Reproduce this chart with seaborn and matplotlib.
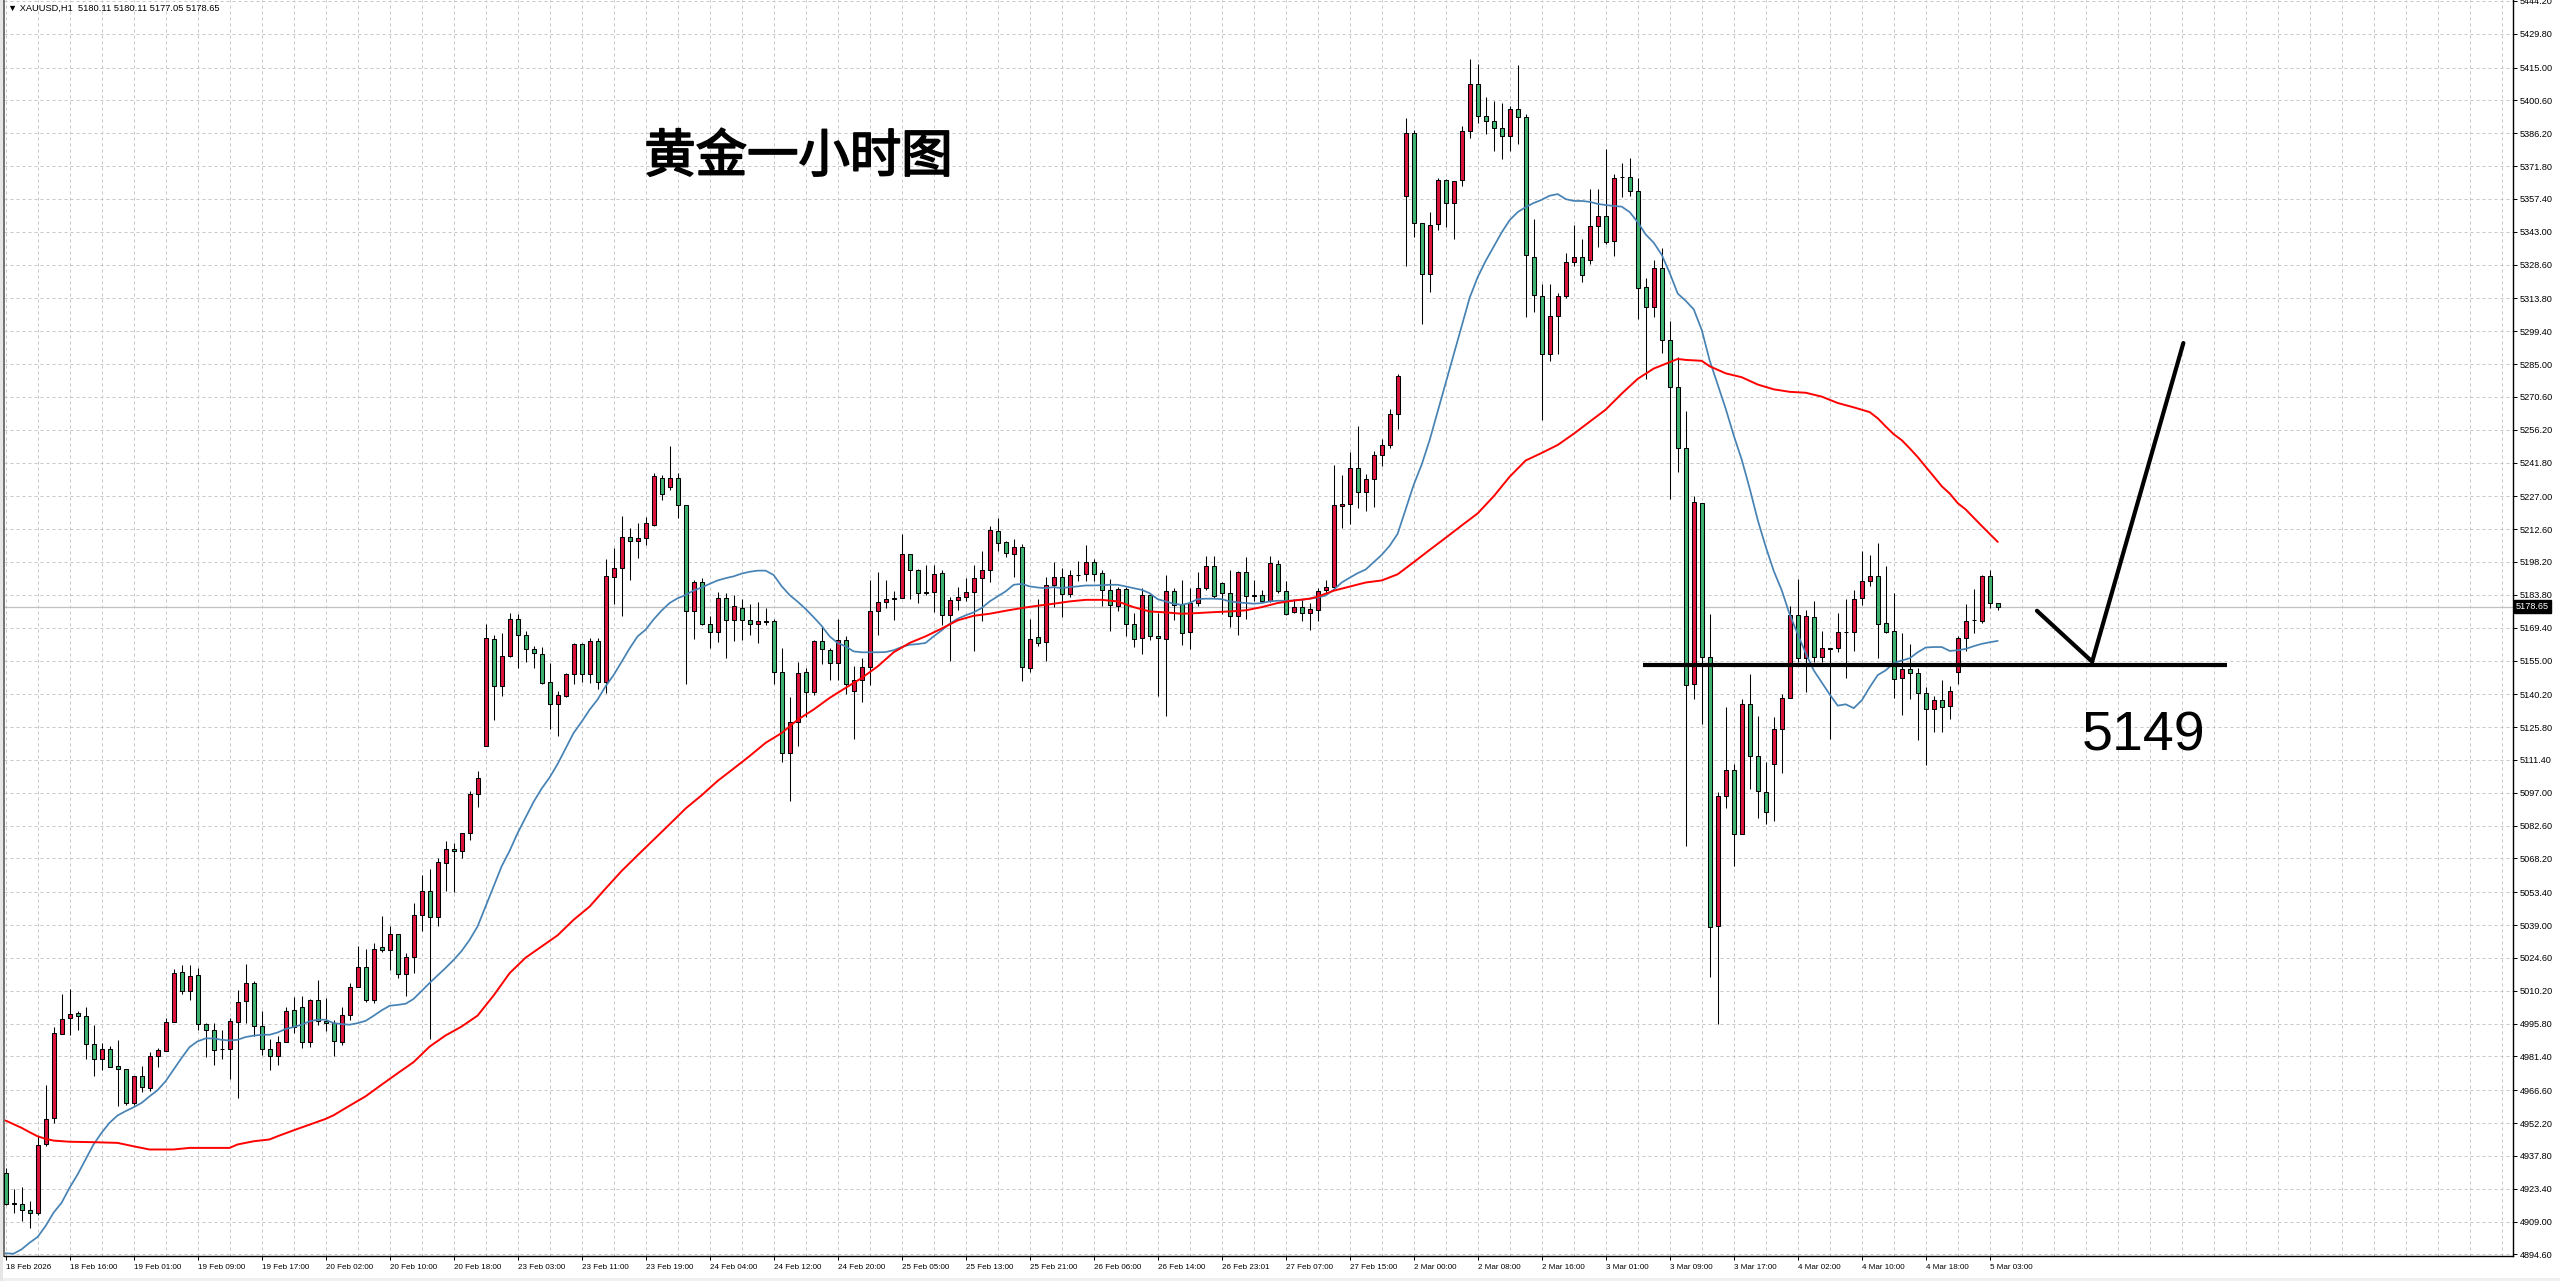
import numpy as np
import pandas as pd
import matplotlib
matplotlib.use("Agg")
import matplotlib.pyplot as plt
import matplotlib.patheffects as pe
import seaborn as sns
from matplotlib import font_manager as fm
from matplotlib.transforms import blended_transform_factory
from matplotlib.patches import Rectangle

# ---------------- data (XAUUSD H1) ----------------
bar_open = [
4930.4, 4916.9, 4916.8, 4914.2, 4912.9, 4943.1, 4954.4, 4991.2, 4998.2, 5000.4,
4999.1, 4986.8, 4980.3, 4984.6, 4977.2, 4975.9, 4961.0, 4972.8, 4967.6, 4981.6,
4983.8, 4996.5, 5018.3, 5010.0, 5017.0, 4995.7, 4993.0, 4984.6, 4984.6, 4996.6,
5005.7, 5013.7, 4994.7, 4984.6, 4981.4, 4987.7, 5001.7, 5003.0, 4987.7, 5006.1,
4997.0, 4996.0, 4987.7, 4999.5, 5011.8, 5020.7, 5006.0, 5029.2, 5027.9, 5034.9,
5017.4, 5025.2, 5043.5, 5054.0, 5042.6, 5066.1, 5072.5, 5071.5, 5079.3, 5096.3,
5117.4, 5164.4, 5143.9, 5157.0, 5173.0, 5166.2, 5159.9, 5158.0, 5145.5, 5136.1,
5139.6, 5149.2, 5162.3, 5149.2, 5163.4, 5145.5, 5191.5, 5195.4, 5209.3, 5207.3,
5208.9, 5214.5, 5235.2, 5230.9, 5234.8, 5223.1, 5176.5, 5189.2, 5171.0, 5167.5,
5182.3, 5172.8, 5178.2, 5172.8, 5170.8, 5172.0, 5172.2, 5150.0, 5114.5, 5128.1,
5150.0, 5141.4, 5163.5, 5159.7, 5153.9, 5164.0, 5141.5, 5146.5, 5152.2, 5176.5,
5180.6, 5182.4, 5182.4, 5201.8, 5194.6, 5184.9, 5185.0, 5193.4, 5174.8, 5181.4,
5182.8, 5185.0, 5191.1, 5194.6, 5211.8, 5206.9, 5201.6, 5204.7, 5151.7, 5165.4,
5163.1, 5188.0, 5191.6, 5184.1, 5192.4, 5192.9, 5198.1, 5193.3, 5186.0, 5178.9,
5186.3, 5171.0, 5164.8, 5183.7, 5165.9, 5164.4, 5185.4, 5179.7, 5167.5, 5180.2,
5186.7, 5196.5, 5188.9, 5184.5, 5174.6, 5193.9, 5183.6, 5183.7, 5181.3, 5197.4,
5185.6, 5176.1, 5178.4, 5175.8, 5177.0, 5185.7, 5187.2, 5222.6, 5223.5, 5239.2,
5228.8, 5234.4, 5244.9, 5249.7, 5263.1, 5358.8, 5386.4, 5346.8, 5324.5, 5346.3,
5365.6, 5355.7, 5365.6, 5387.3, 5407.9, 5393.6, 5391.4, 5388.6, 5384.8, 5396.6,
5393.4, 5332.0, 5314.9, 5289.5, 5306.1, 5314.9, 5329.9, 5332.0, 5330.6, 5345.7,
5349.8, 5339.1, 5366.8, 5367.2, 5360.9, 5318.8, 5310.2, 5327.2, 5295.5, 5275.0,
5248.3, 5144.8, 5224.0, 5156.4, 5038.5, 5095.5, 5107.2, 5079.1, 5135.9, 5113.1,
5097.2, 5109.7, 5125.0, 5138.6, 5175.1, 5156.0, 5174.1, 5156.4, 5160.1, 5160.7,
5167.5, 5167.7, 5182.6, 5190.0, 5192.1, 5171.3, 5167.9, 5147.5, 5151.4, 5149.7,
5140.7, 5133.7, 5137.8, 5135.0, 5150.0, 5164.9, 5172.6, 5172.3, 5191.9, 5180.11,
]
bar_high = [
4932.6, 4923.1, 4924.2, 4917.8, 4946.4, 4969.0, 4994.3, 5008.9, 5011.1, 5001.4,
5003.2, 4995.3, 4987.3, 4985.8, 4988.7, 4975.9, 4972.8, 4977.3, 4983.3, 4985.2,
4998.2, 5019.7, 5021.6, 5021.6, 5020.1, 4996.0, 4996.0, 4992.8, 4998.2, 5010.6,
5022.0, 5014.3, 5001.4, 4989.0, 4990.2, 5003.2, 5007.4, 5007.7, 5006.5, 5015.0,
5007.1, 4997.5, 5003.2, 5013.5, 5030.0, 5028.3, 5031.0, 5042.8, 5038.7, 5035.2,
5026.7, 5048.8, 5060.8, 5063.7, 5068.6, 5076.0, 5074.9, 5079.3, 5097.9, 5106.7,
5171.0, 5166.2, 5167.1, 5175.9, 5175.5, 5168.1, 5161.3, 5160.9, 5154.0, 5141.8,
5149.6, 5162.8, 5162.8, 5164.8, 5164.8, 5199.7, 5204.2, 5218.4, 5213.0, 5215.3,
5217.9, 5237.0, 5236.4, 5249.1, 5237.4, 5223.1, 5190.5, 5191.1, 5174.5, 5185.1,
5184.7, 5183.7, 5181.8, 5179.8, 5180.8, 5177.9, 5173.0, 5160.3, 5138.8, 5154.4,
5151.9, 5164.0, 5170.2, 5160.6, 5173.3, 5165.9, 5152.4, 5156.2, 5190.1, 5194.0,
5190.1, 5185.3, 5210.5, 5201.8, 5195.2, 5196.9, 5196.9, 5194.5, 5182.7, 5187.2,
5191.1, 5196.9, 5202.8, 5214.0, 5217.4, 5207.5, 5208.3, 5206.1, 5173.3, 5181.9,
5191.6, 5198.3, 5195.5, 5194.8, 5198.8, 5205.7, 5199.4, 5194.5, 5190.8, 5187.2,
5187.2, 5175.8, 5186.7, 5184.3, 5175.8, 5192.6, 5186.7, 5190.4, 5186.7, 5194.0,
5200.9, 5200.6, 5189.5, 5194.8, 5194.3, 5200.2, 5190.4, 5186.0, 5200.6, 5199.1,
5189.7, 5181.9, 5181.9, 5180.2, 5186.7, 5190.4, 5240.9, 5236.5, 5246.3, 5257.9,
5236.9, 5247.0, 5252.0, 5265.1, 5280.6, 5392.7, 5387.7, 5346.8, 5351.6, 5366.4,
5365.9, 5365.4, 5389.5, 5418.6, 5416.4, 5402.1, 5400.4, 5399.5, 5398.0, 5415.9,
5394.5, 5348.6, 5319.9, 5319.9, 5316.3, 5333.8, 5345.9, 5339.8, 5361.8, 5361.8,
5379.3, 5368.1, 5373.0, 5375.2, 5366.4, 5322.5, 5330.7, 5335.9, 5304.0, 5288.0,
5264.3, 5227.0, 5224.2, 5175.6, 5097.2, 5134.8, 5109.7, 5138.0, 5149.3, 5130.5,
5110.4, 5130.1, 5140.5, 5178.8, 5190.6, 5177.0, 5180.9, 5167.9, 5160.7, 5175.8,
5182.1, 5185.8, 5202.8, 5201.1, 5206.4, 5196.4, 5184.7, 5167.1, 5162.4, 5151.8,
5143.3, 5139.5, 5146.5, 5144.0, 5165.6, 5179.9, 5186.5, 5192.6, 5194.8, 5180.11,
]
bar_low = [
4916.2, 4912.9, 4909.2, 4906.3, 4911.7, 4942.3, 4952.3, 4991.2, 4990.9, 4993.1,
4980.3, 4972.7, 4975.3, 4976.8, 4959.5, 4960.0, 4960.3, 4965.7, 4966.1, 4976.8,
4983.8, 4996.5, 5008.6, 5006.0, 4993.1, 4981.1, 4977.5, 4980.3, 4971.5, 4963.1,
4996.0, 4990.2, 4982.2, 4975.3, 4977.8, 4987.7, 4991.6, 4984.9, 4985.5, 4995.1,
4992.4, 4981.4, 4986.3, 4997.5, 5011.8, 5005.2, 5004.8, 5027.3, 5019.4, 5015.6,
5008.0, 5017.9, 5036.4, 4989.0, 5038.4, 5054.0, 5053.6, 5068.2, 5076.4, 5090.8,
5117.4, 5129.1, 5139.4, 5156.4, 5151.5, 5154.5, 5151.5, 5144.7, 5124.8, 5121.9,
5138.8, 5144.7, 5145.7, 5145.1, 5142.7, 5140.8, 5179.8, 5174.5, 5190.1, 5200.1,
5205.6, 5214.0, 5225.5, 5229.6, 5217.3, 5144.7, 5164.6, 5170.4, 5160.3, 5163.2,
5156.0, 5163.6, 5164.2, 5166.1, 5162.6, 5170.4, 5144.7, 5110.6, 5093.6, 5117.4,
5130.1, 5140.0, 5153.5, 5146.3, 5146.3, 5140.3, 5120.6, 5136.8, 5144.1, 5166.3,
5178.0, 5172.6, 5182.4, 5182.1, 5180.0, 5183.8, 5176.1, 5170.7, 5154.9, 5177.0,
5180.9, 5159.0, 5172.1, 5189.4, 5203.2, 5200.3, 5191.6, 5145.9, 5149.8, 5161.2,
5154.9, 5178.4, 5173.9, 5182.8, 5189.7, 5189.7, 5190.0, 5179.0, 5167.8, 5176.8,
5165.6, 5160.8, 5157.9, 5164.1, 5139.3, 5130.6, 5172.6, 5161.6, 5160.2, 5179.0,
5186.0, 5182.4, 5175.5, 5169.7, 5166.3, 5173.3, 5180.9, 5180.6, 5180.6, 5184.8,
5175.0, 5175.8, 5172.1, 5168.2, 5172.1, 5184.5, 5186.6, 5213.3, 5214.7, 5221.7,
5220.4, 5222.2, 5240.1, 5248.1, 5256.7, 5327.9, 5340.6, 5302.6, 5316.5, 5343.6,
5345.0, 5340.0, 5362.9, 5384.3, 5390.5, 5385.9, 5378.4, 5374.8, 5378.4, 5381.3,
5305.6, 5307.9, 5260.6, 5286.5, 5289.5, 5313.8, 5327.9, 5320.9, 5328.8, 5336.4,
5337.7, 5332.3, 5358.4, 5358.8, 5304.7, 5278.4, 5305.6, 5290.0, 5225.7, 5237.8,
5073.6, 5138.0, 5127.1, 5016.3, 4995.7, 5090.2, 5064.7, 5079.1, 5098.7, 5086.0,
5083.4, 5084.5, 5105.7, 5138.6, 5154.3, 5141.2, 5154.3, 5154.3, 5120.5, 5158.6,
5147.5, 5159.2, 5179.4, 5187.5, 5156.0, 5167.1, 5138.6, 5131.2, 5138.0, 5120.3,
5109.3, 5123.5, 5123.5, 5129.4, 5144.8, 5159.1, 5167.1, 5171.5, 5178.0, 5177.05,
]
bar_close = [
4916.8, 4917.1, 4914.0, 4912.7, 4942.6, 4954.0, 4991.6, 4997.8, 5000.0, 4999.1,
4986.8, 4980.3, 4984.6, 4976.8, 4975.9, 4961.0, 4972.8, 4968.0, 4981.6, 4984.2,
4996.3, 5017.9, 5010.0, 5016.6, 4995.7, 4993.1, 4984.4, 4984.7, 4996.9, 5005.2,
5013.5, 4994.7, 4984.6, 4981.4, 4987.7, 5001.3, 4994.3, 4987.7, 5006.1, 4996.9,
4996.0, 4988.1, 4999.5, 5011.8, 5020.7, 5006.0, 5028.6, 5027.9, 5034.9, 5017.4,
5025.2, 5043.5, 5054.0, 5042.6, 5066.7, 5072.5, 5071.3, 5079.3, 5096.3, 5103.3,
5164.8, 5143.9, 5157.0, 5173.0, 5166.2, 5160.1, 5158.2, 5145.3, 5136.1, 5139.8,
5149.0, 5162.3, 5149.2, 5163.4, 5145.5, 5191.9, 5195.4, 5209.3, 5207.3, 5208.9,
5215.1, 5235.8, 5228.2, 5234.8, 5223.1, 5176.5, 5189.2, 5171.0, 5167.3, 5182.3,
5172.8, 5178.8, 5172.8, 5170.8, 5172.2, 5172.1, 5150.0, 5114.5, 5128.1, 5149.6,
5141.4, 5163.4, 5160.0, 5153.9, 5164.0, 5144.7, 5146.5, 5152.2, 5176.8, 5180.6,
5182.1, 5182.1, 5201.8, 5194.5, 5184.5, 5184.5, 5193.0, 5174.8, 5181.6, 5183.0,
5185.1, 5191.1, 5194.6, 5212.1, 5206.4, 5202.1, 5204.7, 5152.2, 5164.4, 5162.7,
5188.0, 5191.6, 5184.1, 5192.4, 5192.6, 5198.1, 5192.9, 5186.0, 5179.3, 5186.3,
5171.0, 5164.4, 5183.7, 5165.7, 5164.8, 5185.4, 5179.3, 5167.0, 5180.2, 5186.7,
5196.5, 5183.1, 5184.4, 5174.6, 5193.9, 5183.1, 5183.3, 5181.3, 5197.7, 5185.3,
5175.6, 5178.4, 5175.8, 5177.5, 5185.6, 5187.2, 5223.2, 5223.7, 5239.2, 5228.8,
5234.4, 5244.9, 5249.7, 5263.1, 5279.9, 5386.4, 5346.8, 5324.5, 5345.9, 5365.6,
5355.7, 5365.4, 5387.0, 5407.9, 5393.6, 5391.4, 5388.4, 5384.8, 5396.6, 5393.4,
5332.9, 5315.4, 5289.5, 5306.1, 5314.9, 5329.9, 5332.0, 5324.1, 5345.7, 5349.8,
5338.6, 5366.4, 5366.9, 5360.9, 5318.4, 5310.2, 5327.2, 5295.5, 5275.0, 5248.3,
5144.4, 5224.4, 5156.4, 5038.1, 5095.5, 5107.2, 5079.1, 5135.9, 5113.1, 5097.6,
5088.5, 5125.0, 5138.6, 5175.1, 5156.0, 5174.7, 5156.4, 5160.3, 5160.3, 5167.7,
5167.7, 5182.1, 5190.0, 5192.1, 5170.9, 5167.7, 5147.1, 5151.4, 5149.7, 5140.7,
5133.7, 5137.8, 5134.8, 5141.7, 5164.9, 5172.3, 5172.8, 5191.9, 5180.2, 5178.65,
]

# fast moving average (blue), one value per bar
ma_fast = [
4895.1, 4894.9, 4896.8, 4899.7, 4902.2, 4907.0, 4912.9, 4917.2, 4923.8, 4929.6,
4936.2, 4942.8, 4947.9, 4952.3, 4955.5, 4957.4, 4959.1, 4961.0, 4963.9, 4966.6,
4970.5, 4975.6, 4980.7, 4985.5, 4988.0, 4989.3, 4989.3, 4988.7, 4988.4, 4988.7,
4989.9, 4990.5, 4990.9, 4990.9, 4991.9, 4993.4, 4994.3, 4995.3, 4996.8, 4997.5,
4997.5, 4996.0, 4995.6, 4995.3, 4996.0, 4997.0, 4999.2, 5001.6, 5003.6, 5004.0,
5004.5, 5006.6, 5010.1, 5013.6, 5016.9, 5020.2, 5023.7, 5027.6, 5032.5, 5038.4,
5047.1, 5055.9, 5064.7, 5071.5, 5079.3, 5086.2, 5093.0, 5098.8, 5103.7, 5109.6,
5116.4, 5123.2, 5128.1, 5133.4, 5137.9, 5143.7, 5148.6, 5154.4, 5160.3, 5165.6,
5168.5, 5173.0, 5176.9, 5180.2, 5182.3, 5183.7, 5185.7, 5187.0, 5188.6, 5190.1,
5191.1, 5191.9, 5193.1, 5193.9, 5194.4, 5194.4, 5192.5, 5187.6, 5183.7, 5180.8,
5177.6, 5174.0, 5170.2, 5165.6, 5162.7, 5161.2, 5159.0, 5158.6, 5158.6, 5158.6,
5158.7, 5159.5, 5160.9, 5161.9, 5162.2, 5162.7, 5165.6, 5168.2, 5171.1, 5173.3,
5174.8, 5176.1, 5178.0, 5180.9, 5183.1, 5185.3, 5188.2, 5188.6, 5187.5, 5187.0,
5186.7, 5187.2, 5186.7, 5187.2, 5187.5, 5187.9, 5187.9, 5188.0, 5188.2, 5188.2,
5187.5, 5186.7, 5186.0, 5184.5, 5181.9, 5180.9, 5179.9, 5179.4, 5180.2, 5181.9,
5182.1, 5182.1, 5181.9, 5180.9, 5180.5, 5180.2, 5179.9, 5180.2, 5180.9, 5181.2,
5181.2, 5181.3, 5181.6, 5182.1, 5182.6, 5183.5, 5186.0, 5189.2, 5191.3, 5193.3,
5194.9, 5198.1, 5201.3, 5205.3, 5210.6, 5221.3, 5232.0, 5240.9, 5251.7, 5264.2,
5276.7, 5289.2, 5301.6, 5314.1, 5323.1, 5330.2, 5336.5, 5342.7, 5348.1, 5351.6,
5353.8, 5355.6, 5357.0, 5358.8, 5359.5, 5357.3, 5356.5, 5356.5, 5356.1, 5355.2,
5354.7, 5354.3, 5354.0, 5351.6, 5347.2, 5341.8, 5338.2, 5332.9, 5324.9, 5315.9,
5312.7, 5309.0, 5300.0, 5286.5, 5276.0, 5265.4, 5253.7, 5243.1, 5230.4, 5216.6,
5204.9, 5194.3, 5185.8, 5175.2, 5166.6, 5158.2, 5150.7, 5145.4, 5140.1, 5135.2,
5135.8, 5134.1, 5137.5, 5143.3, 5148.6, 5150.7, 5153.9, 5155.0, 5156.0, 5158.6,
5160.7, 5160.9, 5160.9, 5159.2, 5159.5, 5160.1, 5161.3, 5162.3, 5163.0, 5163.6,
]

# slow moving average (red), read at these bars
ma_slow_bar = [0, 2, 3, 4, 5, 6, 8, 11, 14, 16, 18, 21, 23, 28, 29, 31, 33, 34, 36, 38,
               40, 41, 43, 45, 47, 49, 51, 53, 55, 57, 59, 61, 63, 65, 67, 69, 71, 73, 75, 77,
               79, 81, 83, 85, 87, 89, 91, 93, 95, 97, 99, 101, 103, 105, 107, 109, 111, 113, 115, 117,
               119, 121, 123, 125, 127, 129, 131, 133, 135, 137, 139, 141, 143, 145, 147, 149, 151, 153, 155, 157,
               159, 161, 163, 164, 166, 168, 170, 172, 174, 176, 178, 180, 182, 184, 186, 188, 190, 192, 194, 196,
               198, 200, 202, 204, 206, 208, 209, 210, 212, 213, 215, 217, 219, 221, 223, 225, 227, 229, 231, 233,
               234, 235, 236, 237, 238, 239, 240, 241, 242, 243, 244, 245, 246, 247, 248, 249]
ma_slow = [4953.3, 4950.1, 4948.2, 4946.4, 4945.3, 4944.5, 4944.0, 4943.8, 4943.5, 4942.0,
           4940.6, 4940.6, 4941.3, 4941.3, 4942.8, 4944.2, 4945.0, 4946.4, 4949.0, 4951.5,
           4954.0, 4955.6, 4959.8, 4963.9, 4969.0, 4974.0, 4978.9, 4985.7, 4990.6, 4994.5,
           4999.3, 5008.1, 5017.9, 5024.7, 5029.6, 5034.5, 5041.3, 5047.1, 5055.0, 5062.7,
           5069.6, 5076.4, 5083.2, 5090.1, 5095.9, 5102.2, 5107.6, 5113.1, 5118.9, 5123.2,
           5129.0, 5133.5, 5138.6, 5143.0, 5147.3, 5152.4, 5158.6, 5162.7, 5165.6, 5169.0,
           5172.6, 5174.6, 5175.5, 5176.8, 5178.0, 5179.0, 5179.9, 5180.9, 5181.6, 5181.6,
           5180.9, 5178.4, 5176.5, 5176.1, 5175.5, 5175.8, 5176.2, 5176.5, 5177.0, 5178.4,
           5180.2, 5181.3, 5182.1, 5183.0, 5185.6, 5187.4, 5189.2, 5190.1, 5192.8, 5198.1,
           5203.5, 5208.8, 5214.2, 5219.5, 5227.0, 5235.6, 5242.7, 5246.0, 5249.5, 5254.4,
           5259.7, 5265.0, 5272.0, 5278.5, 5283.0, 5285.8, 5287.2, 5286.8, 5286.4, 5284.0,
           5280.9, 5279.2, 5276.0, 5273.9, 5272.8, 5272.4, 5270.7, 5267.9, 5266.0, 5263.9,
           5261.2, 5257.6, 5254.2, 5251.6, 5248.0, 5244.2, 5239.9, 5235.7, 5231.4, 5228.2,
           5224.0, 5221.2, 5217.6, 5214.0, 5210.5, 5207.0]

time_labels = ["18 Feb 2026", "18 Feb 16:00", "19 Feb 01:00", "19 Feb 09:00", "19 Feb 17:00",
               "20 Feb 02:00", "20 Feb 10:00", "20 Feb 18:00", "23 Feb 03:00", "23 Feb 11:00",
               "23 Feb 19:00", "24 Feb 04:00", "24 Feb 12:00", "24 Feb 20:00", "25 Feb 05:00",
               "25 Feb 13:00", "25 Feb 21:00", "26 Feb 06:00", "26 Feb 14:00", "26 Feb 23:01",
               "27 Feb 07:00", "27 Feb 15:00", "2 Mar 00:00", "2 Mar 08:00", "2 Mar 16:00",
               "3 Mar 01:00", "3 Mar 09:00", "3 Mar 17:00", "4 Mar 02:00", "4 Mar 10:00",
               "4 Mar 18:00", "5 Mar 03:00"]
price_ticks = [4894.60, 4909.00, 4923.40, 4937.80, 4952.20, 4966.60, 4981.40, 4995.80, 5010.20,
               5024.60, 5039.00, 5053.40, 5068.20, 5082.60, 5097.00, 5111.40, 5125.80, 5140.20,
               5155.00, 5169.40, 5183.80, 5198.20, 5212.60, 5227.00, 5241.80, 5256.20, 5270.60,
               5285.00, 5299.40, 5313.80, 5328.60, 5343.00, 5357.40, 5371.80, 5386.20, 5400.60,
               5415.00, 5429.80, 5444.20]
last_price = 5178.65
header_text = "\u25BC XAUUSD,H1  5180.11 5180.11 5177.05 5178.65"
title_text = "黄金一小时图"
level_text = "5149"

# hand-drawn annotations (bar index, price)
level_line_bar = [204.6, 277.7]
level_line_price = [5152.9, 5152.9]
tick_mark_bar = [253.9, 260.8, 272.2]
tick_mark_price = [5176.8, 5154.5, 5294.2]

# ---------------- styling ----------------
sns.set_theme(style="white")
plt.rcParams['font.family'] = ['Liberation Sans', 'DejaVu Sans']

try:
    fm.findfont(fm.FontProperties(family='Liberation Sans Narrow'), fallback_to_default=False)
    xfont, xsize = ['Liberation Sans Narrow', 'Liberation Sans'], 6.7
except Exception:
    xfont, xsize = ['Liberation Sans', 'DejaVu Sans'], 5.8

W, H = 2560, 1281
fig = plt.figure(figsize=(W / 100, H / 100), dpi=100)
fig.patch.set_facecolor('white')
ax = fig.add_axes([4 / W, 25 / H, 2509 / W, 1256 / H])
ax.set_facecolor('white')

n = len(bar_close)
x = np.arange(n)
df = pd.DataFrame({"bar": x, "open": bar_open, "high": bar_high,
                   "low": bar_low, "close": bar_close, "ma_fast": ma_fast})

ax.set_xlim(-0.19, 313.4)
ax.set_ylim(4893.9, 5444.6)

grid_kw = dict(color='#C8C8C8', lw=0.72, linestyle=(0, (3, 3)), zorder=0.5)
for v in price_ticks:
    ax.axhline(v, **grid_kw)
for b in range(0, 316, 4):
    ax.axvline(b, **grid_kw)

ax.axhline(last_price, color='#C0C0C0', lw=0.9, zorder=1)

# candles
o = df["open"].to_numpy(); c = df["close"].to_numpy()
hi = df["high"].to_numpy(); lo = df["low"].to_numpy()
colors = np.where(c > o, '#DC143C', np.where(c < o, '#3CB371', '#000000'))
ax.vlines(x, lo, hi, color='black', lw=0.75, zorder=2)
body_bottom = np.minimum(o, c)
body_h = np.maximum(np.abs(c - o), 0.05)
ax.bar(x, body_h, bottom=body_bottom, width=0.5, color=colors,
       edgecolor='black', linewidth=0.75, zorder=3)

# moving averages
sns.lineplot(data=df, x="bar", y="ma_fast", ax=ax, color='#4682B4', linewidth=1.25,
             estimator=None, sort=False, legend=False, zorder=4)
sns.lineplot(x=ma_slow_bar, y=ma_slow, ax=ax, color='#FF0000', linewidth=1.4,
             estimator=None, sort=False, legend=False, zorder=4)

# annotations
ax.plot(level_line_bar, level_line_price, color='black', lw=3.0,
        solid_capstyle='butt', zorder=6)
ax.plot(tick_mark_bar, tick_mark_price, color='black', lw=3.0,
        solid_capstyle='round', solid_joinstyle='miter', zorder=6)
ax.text(267.2, 5121.5, level_text, fontsize=40, color='black', ha='center', va='center',
        family=['Liberation Sans', 'DejaVu Sans'], zorder=7)
ax.text(99.1, 5375.7, title_text, fontsize=37, color='black', ha='center', va='center',
        family=['Noto Sans CJK SC', 'DejaVu Sans'], fontweight='normal', zorder=7,
        path_effects=[pe.withStroke(linewidth=1.3, foreground='black')])

# axes
ax.yaxis.tick_right()
ax.set_yticks(price_ticks)
ax.set_yticklabels([f"{v:.2f}" for v in price_ticks])
ax.tick_params(axis='y', which='major', direction='out', length=3, width=0.7, pad=2,
               labelsize=6.6, colors='black', right=True, left=False)
ax.set_xticks(np.arange(0, n, 8))
ax.set_xticklabels(time_labels, ha='left', fontsize=xsize, family=xfont)
ax.tick_params(axis='x', which='major', direction='out', length=3, width=0.7, pad=2.5,
               colors='black', bottom=True)
ax.set_xlabel(""); ax.set_ylabel("")
ax.grid(False)
ax.spines['top'].set_visible(False)
ax.spines['right'].set_color('black'); ax.spines['right'].set_linewidth(1.0)
ax.spines['bottom'].set_color('black'); ax.spines['bottom'].set_linewidth(1.0)
ax.spines['left'].set_color('#5A5A5A'); ax.spines['left'].set_linewidth(1.2)

# current price tag
trans = blended_transform_factory(ax.transAxes, ax.transData)
ax.text(1.0 + 3 / 2509, last_price, f"{last_price:.2f}", transform=trans, ha='left', va='center',
        fontsize=6.6, color='white', zorder=10, clip_on=False,
        bbox=dict(boxstyle='square,pad=0.18', facecolor='black', edgecolor='black'))

# header
fig.text(8 / W, 1 - 8 / H, header_text, fontsize=6.7, color='black', ha='left', va='center',
         family=['Liberation Sans', 'DejaVu Sans'])

# window chrome
fig.patches.append(Rectangle((0, 0), 1, 3 / H, transform=fig.transFigure,
                             facecolor='#F0F0F0', edgecolor='none', zorder=-1))
fig.patches.append(Rectangle((0, 0), 3 / W, 1, transform=fig.transFigure,
                             facecolor='#E6E6E6', edgecolor='none', zorder=-1))

fig.savefig("out.png", dpi=100, facecolor='white')
